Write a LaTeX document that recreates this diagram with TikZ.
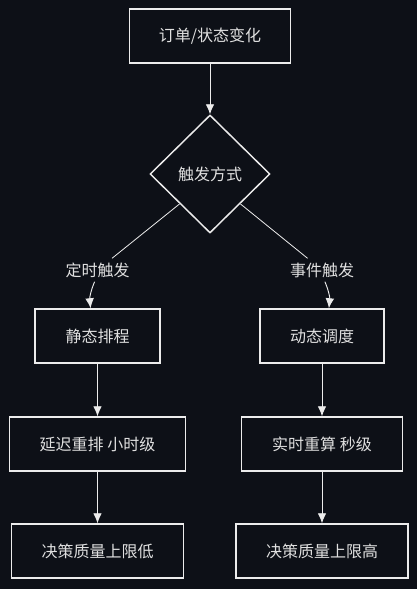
\documentclass[tikz,border=0pt]{standalone}
\usepackage{fontspec}
\setmainfont{Noto Sans CJK SC}
\usepackage{tikz}
\usetikzlibrary{shapes,arrows.meta,positioning}
\usepackage{xcolor}
\definecolor{canvasdark}{RGB}{13,16,23}
\definecolor{inklight}{RGB}{236,236,236}
\definecolor{textlight}{RGB}{224,224,224}
\tikzset{
    stepbox/.style={rectangle, draw=inklight, line width=1.1pt, fill=canvasdark, minimum height=40.5pt, align=center, text=textlight, font=\fontsize{12}{14}\selectfont},
    decision/.style={diamond, draw=inklight, line width=1.1pt, fill=canvasdark, minimum width=90pt, minimum height=88.5pt, inner sep=0pt, align=center, text=textlight, font=\fontsize{12}{14}\selectfont},
    branchlabel/.style={inner sep=3pt, text=textlight, font=\fontsize{12}{14}\selectfont},
    connection/.style={draw=inklight, line width=0.7pt, -{Latex[length=7.5pt,width=6.5pt]}},
    branchline/.style={draw=inklight, line width=0.6pt}
}
\begin{document}
\begin{tikzpicture}[x=0.75pt,y=-0.75pt]
    \fill[canvasdark] (0,0) rectangle (417,589);
    % Entry and decision
    \node[stepbox, minimum width=120.75pt] (change) at (210,36) {订单/状态变化};
    \node[decision] (trigger) at (210,174) {触发方式};
    \draw[connection] (change) -- (trigger);
    % Branch labels
    \node[branchlabel] (timed) at (97.5,270) {定时触发};
    \node[branchlabel] (event) at (322,270) {事件触发};
    \draw[branchline] (trigger.south west) -- (timed);
    \draw[branchline] (trigger.south east) -- (event);
    % Timed branch
    \node[stepbox, minimum width=93.75pt] (static) at (97.5,336) {静态排程};
    \node[stepbox, minimum width=132pt] (delay) at (97.5,444) {延迟重排 小时级};
    \node[stepbox, minimum width=129pt] (lowq) at (97.5,551) {决策质量上限低};
    \draw[connection] (timed) to[bend right=14] (static);
    \draw[connection] (static) -- (delay);
    \draw[connection] (delay) -- (lowq);
    % Event branch
    \node[stepbox, minimum width=93pt] (dynamic) at (322,336) {动态调度};
    \node[stepbox, minimum width=120.75pt] (realtime) at (322,444) {实时重算 秒级};
    \node[stepbox, minimum width=129pt] (highq) at (322,551) {决策质量上限高};
    \draw[connection] (event) to[bend left=14] (dynamic);
    \draw[connection] (dynamic) -- (realtime);
    \draw[connection] (realtime) -- (highq);
\end{tikzpicture}
\end{document}
